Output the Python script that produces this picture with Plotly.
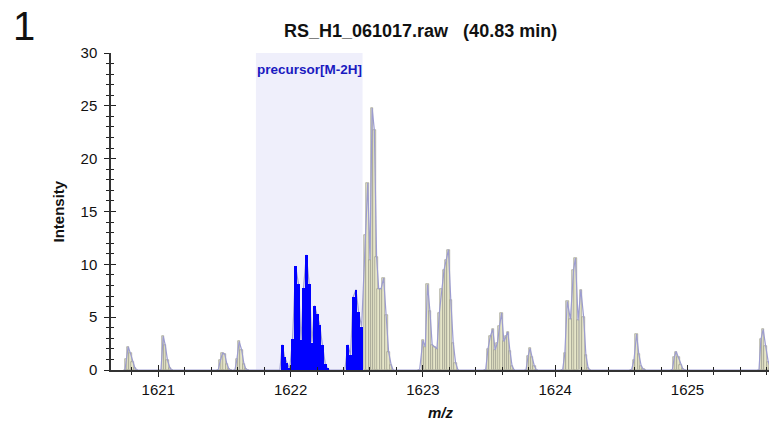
import plotly.graph_objects as go

# ---- data ----
mz_values = [
    1620.748, 1620.760, 1620.772, 1620.789, 1620.806, 1620.823, 1620.838,
    1621.020, 1621.037, 1621.052, 1621.070, 1621.088, 1621.103,
    1621.453, 1621.469, 1621.486, 1621.502, 1621.518, 1621.534, 1621.545,
    1621.579, 1621.594, 1621.611, 1621.630, 1621.647, 1621.662, 1621.677,
    1621.919, 1621.937, 1621.955, 1621.972, 1621.993, 1622.015, 1622.038, 1622.060,
    1622.079, 1622.098, 1622.119, 1622.141, 1622.161, 1622.181, 1622.201, 1622.220,
    1622.240, 1622.262, 1622.280, 1622.295,
    1622.410, 1622.433, 1622.453, 1622.473, 1622.494, 1622.514, 1622.537,
    1622.564, 1622.583, 1622.600, 1622.616, 1622.633, 1622.650, 1622.666, 1622.684,
    1622.703, 1622.723, 1622.741, 1622.760, 1622.775,
    1622.975, 1623.000, 1623.018, 1623.035, 1623.053, 1623.070, 1623.088, 1623.106,
    1623.124, 1623.142, 1623.160, 1623.176, 1623.193, 1623.211, 1623.229, 1623.247, 1623.265,
    1623.474, 1623.492, 1623.510, 1623.528, 1623.546, 1623.564, 1623.580, 1623.595,
    1623.612, 1623.628, 1623.642, 1623.658, 1623.674, 1623.690,
    1623.779, 1623.795, 1623.810, 1623.826, 1623.842, 1623.858,
    1624.056, 1624.073, 1624.091, 1624.115, 1624.139, 1624.153, 1624.173, 1624.194,
    1624.215, 1624.232, 1624.249, 1624.262,
    1624.577, 1624.595, 1624.615, 1624.632, 1624.650, 1624.668, 1624.680,
    1624.885, 1624.900, 1624.914, 1624.930, 1624.948, 1624.965, 1624.980,
    1625.540, 1625.555, 1625.572, 1625.590, 1625.610, 1625.628,
]
intensity_values = [
    0, 1.0, 2.2, 1.6, 0.8, 0.2, 0,
    0, 3.2, 2.4, 0.9, 0.2, 0,
    0, 0.9, 1.6, 1.5, 0.6, 0.1, 0,
    0, 1.0, 2.7, 1.9, 0.6, 0.1, 0,
    0, 2.4, 1.2, 0.7, 0.1, 2.9, 9.8, 8.1,
    2.8, 7.8, 10.9, 8.1, 2.6, 6.1, 5.3, 4.3,
    2.4, 0.6, 0.1, 0,
    0, 2.4, 1.4, 6.9, 7.6, 5.5, 4.1,
    12.8, 17.7, 10.4, 24.8, 22.7, 10.7, 7.7, 7.7,
    8.7, 5.2, 1.7, 0.5, 0,
    0, 2.8, 2.2, 8.1, 5.6, 2.4, 2.2, 2.0,
    5.4, 7.7, 9.5, 10.4, 11.4, 6.6, 2.6, 0.7, 0,
    0, 2.0, 3.2, 3.85, 1.9, 2.6, 4.2, 5.4,
    2.7, 3.2, 3.6, 1.8, 0.4, 0,
    0, 1.3, 2.05, 1.2, 0.4, 0,
    0, 1.6, 6.5, 4.8, 9.5, 10.6, 4.7, 7.6,
    5.0, 1.4, 0.2, 0,
    0, 0.9, 3.4, 1.5, 0.4, 0.05, 0,
    0, 1.2, 1.75, 1.2, 0.5, 0.1, 0,
    0, 2.9, 3.85, 2.3, 0.8, 0.2,
]
precursor_window = [1621.738, 1622.544]
precursor_label = "precursor[M-2H]"
title_text = "RS_H1_061017.raw" + "\u00a0" * 3 + "(40.83 min)"
x_range = [1620.6425, 1625.616]
y_range = [0, 30]

FONT = "Liberation Sans, Arial, sans-serif"

in_win = [precursor_window[0] <= m <= precursor_window[1] for m in mz_values]
blue_x = [m for m, w in zip(mz_values, in_win) if w]
blue_y = [v for v, w in zip(intensity_values, in_win) if w]
ol_x = [m for m, w in zip(mz_values, in_win) if not w]
ol_y = [v for v, w in zip(intensity_values, in_win) if not w]

fig = go.Figure()
fig.add_trace(go.Bar(x=ol_x, y=ol_y, width=0.019,
                     marker=dict(color="#E6E6C8", line=dict(color="#8f8f82", width=0.6)),
                     hoverinfo="skip", showlegend=False))
fig.add_trace(go.Scatter(x=mz_values, y=intensity_values, mode="lines",
                         line=dict(color="#9c9cd0", width=1.2),
                         hoverinfo="skip", showlegend=False))
# blue precursor bars on the overlay axes so they sit above the outline
fig.add_trace(go.Bar(x=blue_x, y=blue_y, width=0.0215, xaxis="x2", yaxis="y2",
                     marker=dict(color="#0000FF", line=dict(width=0)),
                     hoverinfo="skip", showlegend=False))

fig.add_shape(type="rect", xref="x", yref="y", x0=precursor_window[0], x1=precursor_window[1],
              y0=y_range[0], y1=y_range[1], fillcolor="#EFEFFB", line=dict(width=0), layer="below")

axis_common = dict(showgrid=False, zeroline=False)
fig.update_layout(
    width=769, height=429,
    margin=dict(l=111, r=0, t=53, b=59),
    paper_bgcolor="white", plot_bgcolor="white",
    barmode="overlay", bargap=0,
    font=dict(family=FONT, color="#111"),
    xaxis=dict(range=x_range, tick0=1621, dtick=1, ticks="outside", ticklen=5, tickwidth=1.3,
               tickcolor="#222", showline=True, linecolor="#333", linewidth=1.5,
               tickfont=dict(size=15, family=FONT, color="#111"),
               minor=dict(dtick=0.2, tick0=1621, ticks="outside", ticklen=3, tickwidth=1.2, tickcolor="#222"),
               **axis_common),
    yaxis=dict(range=y_range, tick0=0, dtick=5, ticks="outside", ticklen=5, tickwidth=1.3,
               tickcolor="#222", showline=True, linecolor="#333", linewidth=1.5,
               tickfont=dict(size=15, family=FONT, color="#111"), ticklabelstandoff=4,
               minor=dict(dtick=1, tick0=0, ticks="outside", ticklen=3, tickwidth=1.2, tickcolor="#222"),
               **axis_common),
    xaxis2=dict(range=x_range, overlaying="x", anchor="y", side="bottom", tick0=1621, dtick=1,
                ticks="inside", ticklen=5, tickwidth=1.3, tickcolor="#222", showticklabels=False,
                showline=True, linecolor="#333", linewidth=1.5,
                minor=dict(dtick=0.2, tick0=1621, ticks="inside", ticklen=3, tickwidth=1.2, tickcolor="#222"),
                **axis_common),
    yaxis2=dict(range=y_range, overlaying="y", anchor="x", side="left", tick0=0, dtick=5,
                ticks="inside", ticklen=5, tickwidth=1.3, tickcolor="#222", showticklabels=False,
                showline=True, linecolor="#333", linewidth=1.5,
                minor=dict(dtick=1, tick0=0, ticks="inside", ticklen=3, tickwidth=1.2, tickcolor="#222"),
                **axis_common),
)

fig.add_annotation(text="<b>" + title_text + "</b>", xref="paper", yref="paper",
                   x=0.471, y=1.0694, xanchor="center", yanchor="middle", showarrow=False,
                   font=dict(size=18, family=FONT, color="#111"))
fig.add_annotation(text="1", xref="paper", yref="paper", x=-0.1322, y=1.086,
                   xanchor="center", yanchor="middle", showarrow=False,
                   font=dict(size=40, family=FONT, color="#111"))
fig.add_annotation(text="<b>Intensity</b>", xref="paper", yref="paper", x=-0.0805, y=0.5,
                   textangle=-90, xanchor="center", yanchor="middle", showarrow=False,
                   font=dict(size=15, family=FONT, color="#111"))
fig.add_annotation(text="<b><i>m/z</i></b>", xref="paper", yref="paper", x=0.5015, y=-0.1356,
                   xanchor="center", yanchor="middle", showarrow=False,
                   font=dict(size=15, family=FONT, color="#111"))
fig.add_annotation(text="<b>" + precursor_label + "</b>", xref="x", yref="y",
                   x=sum(precursor_window) / 2, y=28.48, xanchor="center", yanchor="middle",
                   showarrow=False, font=dict(size=13.5, family=FONT, color="#1a1ac0"))

fig.write_html("out.html",
               config={"displayModeBar": False},
               post_script="document.body.style.margin='0';"
                           "document.documentElement.style.overflow='hidden';")
